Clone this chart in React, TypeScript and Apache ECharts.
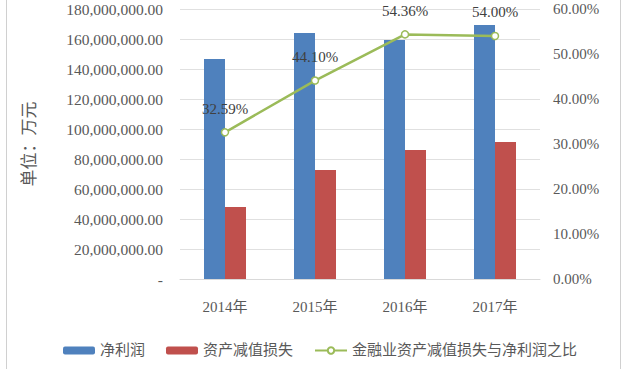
import React, { useEffect, useRef } from "react";
import * as echarts from "echarts";

const categories = ["2014年", "2015年", "2016年", "2017年"];
const netProfit = [146700000, 164000000, 159300000, 169300000];
const impairment = [48000000, 72700000, 86000000, 91300000];
const ratio = [32.59, 44.1, 54.36, 54.0];
const seriesNames = ["净利润", "资产减值损失", "金融业资产减值损失与净利润之比"];
const axisName = "单位：万元";

const FONT = "'Liberation Serif', 'Noto Sans CJK SC', serif";

export default function App() {
  const ref = useRef<HTMLDivElement>(null);
  useEffect(() => {
    if (!ref.current) return;
    const chart = echarts.init(ref.current, null, { renderer: "svg" });
    const fmtLeft = (v: number) =>
      v === 0
        ? "-"
        : v.toLocaleString("en-US", { minimumFractionDigits: 2, maximumFractionDigits: 2 });
    chart.setOption({
      animation: false,
      backgroundColor: "#ffffff",
      textStyle: { fontFamily: FONT },
      grid: { left: 180, right: 99, top: 9, bottom: 90, containLabel: false },
      legend: {
        bottom: 6,
        left: 58,
        itemWidth: 32,
        itemHeight: 8,
        itemGap: 21,
        textStyle: { fontSize: 15, color: "#595959", fontFamily: FONT },
        data: seriesNames,
      },
      xAxis: {
        type: "category",
        data: categories,
        axisLine: { lineStyle: { color: "#d9d9d9" } },
        axisTick: { show: false },
        axisLabel: { fontSize: 15, color: "#595959", margin: 20, fontFamily: FONT },
      },
      yAxis: [
        {
          type: "value",
          min: 0,
          max: 180000000,
          interval: 20000000,
          name: axisName,
          nameLocation: "middle",
          nameRotate: 90,
          nameGap: 142,
          nameTextStyle: { fontSize: 17, color: "#595959", fontFamily: FONT },
          axisLine: { show: false },
          axisTick: { show: false },
          splitLine: { lineStyle: { color: "#e0e0e0" } },
          axisLabel: { fontSize: 15.5, color: "#595959", margin: 17, formatter: fmtLeft, fontFamily: FONT },
        },
        {
          type: "value",
          min: 0,
          max: 60,
          interval: 10,
          axisLine: { show: false },
          axisTick: { show: false },
          splitLine: { show: false },
          axisLabel: {
            fontSize: 15,
            color: "#595959",
            margin: 13,
            fontFamily: FONT,
            formatter: (v: number) => v.toFixed(2) + "%",
          },
        },
      ],
      series: [
        {
          name: seriesNames[0],
          type: "bar",
          data: netProfit,
          barWidth: 21,
          barGap: "0%",
          itemStyle: { color: "#4f81bd" },
        },
        {
          name: seriesNames[1],
          type: "bar",
          data: impairment,
          barWidth: 21,
          barGap: "0%",
          itemStyle: { color: "#c0504d" },
        },
        {
          name: seriesNames[2],
          type: "line",
          yAxisIndex: 1,
          data: ratio,
          symbol: "circle",
          symbolSize: 7,
          itemStyle: { color: "#ffffff", borderColor: "#9bbb59", borderWidth: 1.5 },
          lineStyle: { color: "#9bbb59", width: 2.5 },
          label: {
            show: true,
            position: "top",
            distance: 12,
            fontSize: 15,
            color: "#404040",
            fontFamily: FONT,
            formatter: (p: any) => p.value.toFixed(2) + "%",
          },
          z: 5,
        },
      ],
      graphic: [
        { type: "line", shape: { x1: 6.5, y1: 0, x2: 6.5, y2: 369 }, style: { stroke: "#d0d0d0", lineWidth: 1 } },
        { type: "line", shape: { x1: 620.5, y1: 0, x2: 620.5, y2: 369 }, style: { stroke: "#d0d0d0", lineWidth: 1 } },
      ],
    });
    return () => chart.dispose();
  }, []);
  return (
    <div
      ref={ref}
      style={{ position: "fixed", left: 0, top: 0, width: 639, height: 369 }}
    />
  );
}
